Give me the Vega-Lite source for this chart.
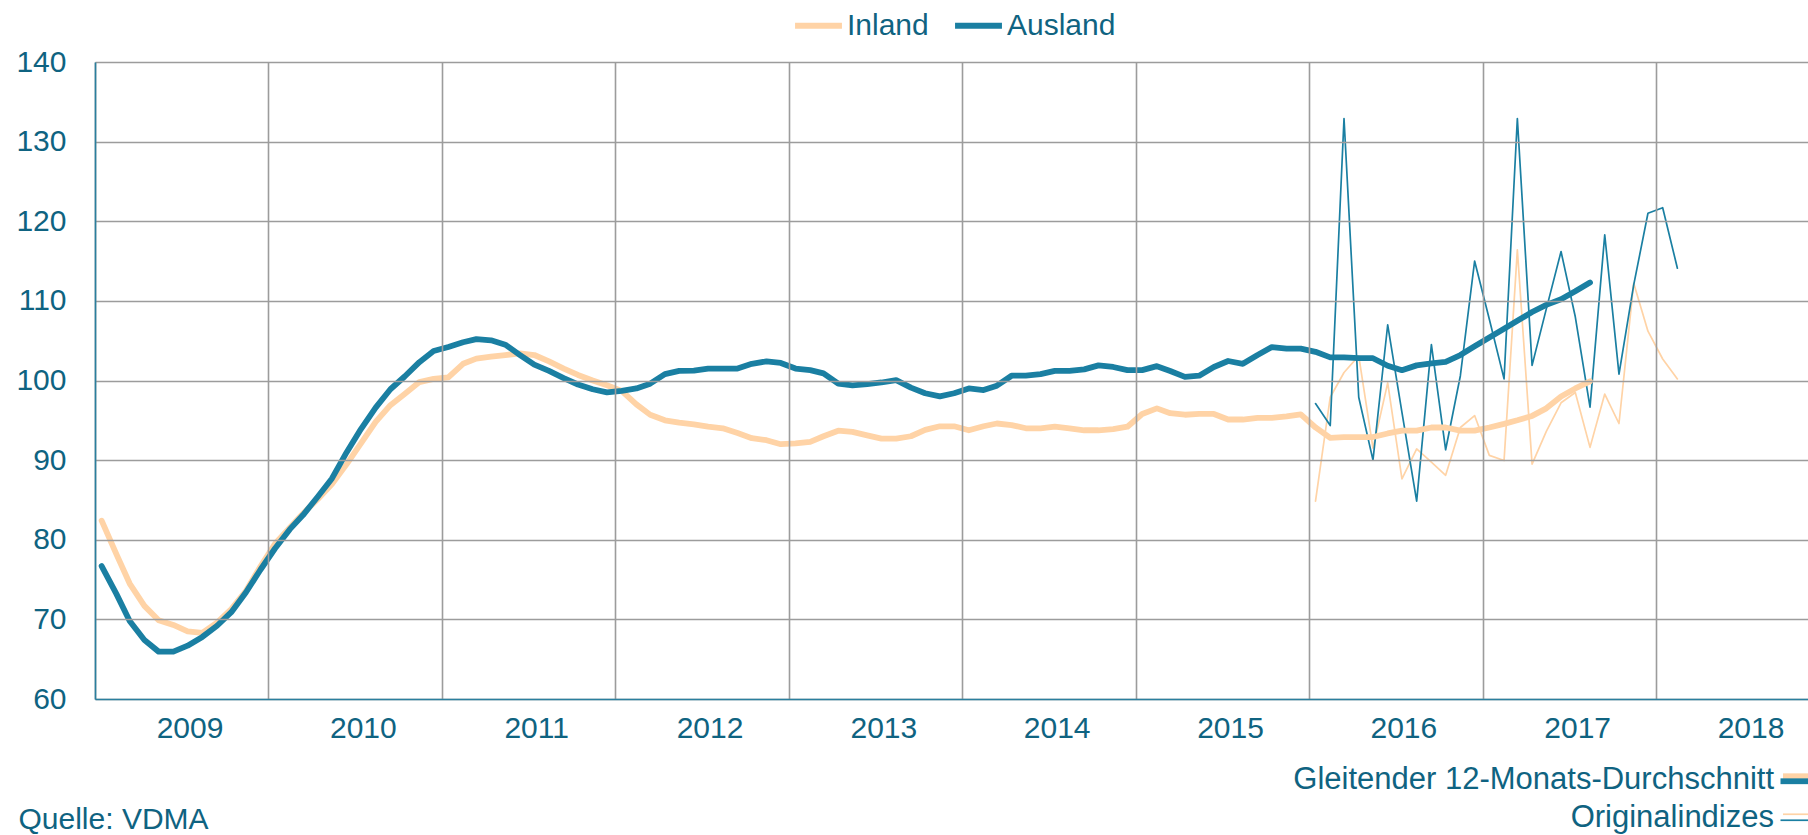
{
"$schema": "https://vega.github.io/schema/vega-lite/v6.json",
"width": 1713,
"height": 637,
"autosize": {"type": "none"},
"padding": {"left": 95, "top": 62, "right": 0, "bottom": 136},
"background": "white",
"config": {"font": "Liberation Sans", "view": {"stroke": null}},
"datasets": {
"ma": [
{"Datum":"2009-01-15","Inland":82.4,"Ausland":76.7},
{"Datum":"2009-02-15","Inland":78.2,"Ausland":73.2},
{"Datum":"2009-03-15","Inland":74.5,"Ausland":69.8},
{"Datum":"2009-04-15","Inland":71.7,"Ausland":67.4},
{"Datum":"2009-05-15","Inland":69.9,"Ausland":65.95},
{"Datum":"2009-06-15","Inland":69.3,"Ausland":65.95},
{"Datum":"2009-07-15","Inland":68.5,"Ausland":66.7},
{"Datum":"2009-08-15","Inland":68.3,"Ausland":67.8},
{"Datum":"2009-09-15","Inland":69.6,"Ausland":69.2},
{"Datum":"2009-10-15","Inland":71.3,"Ausland":70.9},
{"Datum":"2009-11-15","Inland":73.6,"Ausland":73.4},
{"Datum":"2009-12-15","Inland":76.6,"Ausland":76.2},
{"Datum":"2010-01-15","Inland":79.5,"Ausland":78.9},
{"Datum":"2010-02-15","Inland":81.5,"Ausland":81.3},
{"Datum":"2010-03-15","Inland":83.3,"Ausland":83.1},
{"Datum":"2010-04-15","Inland":85.1,"Ausland":85.4},
{"Datum":"2010-05-15","Inland":87.0,"Ausland":87.7},
{"Datum":"2010-06-15","Inland":89.5,"Ausland":91.0},
{"Datum":"2010-07-15","Inland":92.1,"Ausland":93.9},
{"Datum":"2010-08-15","Inland":94.8,"Ausland":96.6},
{"Datum":"2010-09-15","Inland":96.9,"Ausland":98.9},
{"Datum":"2010-10-15","Inland":98.3,"Ausland":100.5},
{"Datum":"2010-11-15","Inland":99.8,"Ausland":102.3},
{"Datum":"2010-12-15","Inland":100.2,"Ausland":103.7},
{"Datum":"2011-01-15","Inland":100.4,"Ausland":104.2},
{"Datum":"2011-02-15","Inland":102.1,"Ausland":104.8},
{"Datum":"2011-03-15","Inland":102.75,"Ausland":105.2},
{"Datum":"2011-04-15","Inland":103.0,"Ausland":105.05},
{"Datum":"2011-05-15","Inland":103.2,"Ausland":104.5},
{"Datum":"2011-06-15","Inland":103.4,"Ausland":103.2},
{"Datum":"2011-07-15","Inland":103.2,"Ausland":102.0},
{"Datum":"2011-08-15","Inland":102.4,"Ausland":101.2},
{"Datum":"2011-09-15","Inland":101.5,"Ausland":100.3},
{"Datum":"2011-10-15","Inland":100.7,"Ausland":99.5},
{"Datum":"2011-11-15","Inland":100.0,"Ausland":98.9},
{"Datum":"2011-12-15","Inland":99.4,"Ausland":98.5},
{"Datum":"2012-01-15","Inland":98.7,"Ausland":98.7},
{"Datum":"2012-02-15","Inland":97.0,"Ausland":99.0},
{"Datum":"2012-03-15","Inland":95.7,"Ausland":99.6},
{"Datum":"2012-04-15","Inland":95.0,"Ausland":100.8},
{"Datum":"2012-05-15","Inland":94.7,"Ausland":101.2},
{"Datum":"2012-06-15","Inland":94.5,"Ausland":101.25},
{"Datum":"2012-07-15","Inland":94.2,"Ausland":101.5},
{"Datum":"2012-08-15","Inland":94.0,"Ausland":101.5},
{"Datum":"2012-09-15","Inland":93.4,"Ausland":101.5},
{"Datum":"2012-10-15","Inland":92.75,"Ausland":102.1},
{"Datum":"2012-11-15","Inland":92.5,"Ausland":102.4},
{"Datum":"2012-12-15","Inland":92.0,"Ausland":102.2},
{"Datum":"2013-01-15","Inland":92.1,"Ausland":101.5},
{"Datum":"2013-02-15","Inland":92.3,"Ausland":101.3},
{"Datum":"2013-03-15","Inland":93.0,"Ausland":100.9},
{"Datum":"2013-04-15","Inland":93.7,"Ausland":99.6},
{"Datum":"2013-05-15","Inland":93.55,"Ausland":99.4},
{"Datum":"2013-06-15","Inland":93.1,"Ausland":99.55},
{"Datum":"2013-07-15","Inland":92.7,"Ausland":99.75},
{"Datum":"2013-08-15","Inland":92.7,"Ausland":100.05},
{"Datum":"2013-09-15","Inland":93.0,"Ausland":99.1},
{"Datum":"2013-10-15","Inland":93.8,"Ausland":98.4},
{"Datum":"2013-11-15","Inland":94.25,"Ausland":98.0},
{"Datum":"2013-12-15","Inland":94.25,"Ausland":98.4},
{"Datum":"2014-01-15","Inland":93.75,"Ausland":99.0},
{"Datum":"2014-02-15","Inland":94.25,"Ausland":98.8},
{"Datum":"2014-03-15","Inland":94.6,"Ausland":99.35},
{"Datum":"2014-04-15","Inland":94.4,"Ausland":100.6},
{"Datum":"2014-05-15","Inland":94.0,"Ausland":100.6},
{"Datum":"2014-06-15","Inland":94.0,"Ausland":100.8},
{"Datum":"2014-07-15","Inland":94.2,"Ausland":101.2},
{"Datum":"2014-08-15","Inland":94.0,"Ausland":101.2},
{"Datum":"2014-09-15","Inland":93.75,"Ausland":101.4},
{"Datum":"2014-10-15","Inland":93.75,"Ausland":101.9},
{"Datum":"2014-11-15","Inland":93.9,"Ausland":101.7},
{"Datum":"2014-12-15","Inland":94.2,"Ausland":101.3},
{"Datum":"2015-01-15","Inland":95.8,"Ausland":101.3},
{"Datum":"2015-02-15","Inland":96.5,"Ausland":101.8},
{"Datum":"2015-03-15","Inland":95.9,"Ausland":101.2},
{"Datum":"2015-04-15","Inland":95.7,"Ausland":100.45},
{"Datum":"2015-05-15","Inland":95.8,"Ausland":100.6},
{"Datum":"2015-06-15","Inland":95.8,"Ausland":101.7},
{"Datum":"2015-07-15","Inland":95.1,"Ausland":102.45},
{"Datum":"2015-08-15","Inland":95.1,"Ausland":102.1},
{"Datum":"2015-09-15","Inland":95.3,"Ausland":103.2},
{"Datum":"2015-10-15","Inland":95.3,"Ausland":104.2},
{"Datum":"2015-11-15","Inland":95.5,"Ausland":104.0},
{"Datum":"2015-12-15","Inland":95.75,"Ausland":104.0},
{"Datum":"2016-01-15","Inland":94.1,"Ausland":103.6},
{"Datum":"2016-02-15","Inland":92.8,"Ausland":102.9},
{"Datum":"2016-03-15","Inland":92.9,"Ausland":102.9},
{"Datum":"2016-04-15","Inland":92.9,"Ausland":102.8},
{"Datum":"2016-05-15","Inland":92.9,"Ausland":102.8},
{"Datum":"2016-06-15","Inland":93.35,"Ausland":101.85},
{"Datum":"2016-07-15","Inland":93.7,"Ausland":101.3},
{"Datum":"2016-08-15","Inland":93.7,"Ausland":101.9},
{"Datum":"2016-09-15","Inland":94.1,"Ausland":102.15},
{"Datum":"2016-10-15","Inland":94.1,"Ausland":102.35},
{"Datum":"2016-11-15","Inland":93.7,"Ausland":103.2},
{"Datum":"2016-12-15","Inland":93.7,"Ausland":104.3},
{"Datum":"2017-01-15","Inland":94.1,"Ausland":105.4},
{"Datum":"2017-02-15","Inland":94.55,"Ausland":106.5},
{"Datum":"2017-03-15","Inland":95.0,"Ausland":107.5},
{"Datum":"2017-04-15","Inland":95.55,"Ausland":108.6},
{"Datum":"2017-05-15","Inland":96.5,"Ausland":109.5},
{"Datum":"2017-06-15","Inland":98.0,"Ausland":110.2},
{"Datum":"2017-07-15","Inland":99.0,"Ausland":111.2},
{"Datum":"2017-08-15","Inland":99.9,"Ausland":112.3}
],
"orig": [
{"Datum":"2016-01-15","Inland":84.85,"Ausland":97.1},
{"Datum":"2016-02-15","Inland":97.9,"Ausland":94.35},
{"Datum":"2016-03-15","Inland":101.0,"Ausland":132.9},
{"Datum":"2016-04-15","Inland":103.1,"Ausland":97.9},
{"Datum":"2016-05-15","Inland":91.5,"Ausland":90.0},
{"Datum":"2016-06-15","Inland":99.7,"Ausland":107.0},
{"Datum":"2016-07-15","Inland":87.65,"Ausland":96.0},
{"Datum":"2016-08-15","Inland":91.4,"Ausland":84.85},
{"Datum":"2016-09-15","Inland":89.75,"Ausland":104.5},
{"Datum":"2016-10-15","Inland":88.1,"Ausland":91.3},
{"Datum":"2016-11-15","Inland":94.1,"Ausland":100.6},
{"Datum":"2016-12-15","Inland":95.6,"Ausland":115.0},
{"Datum":"2017-01-15","Inland":90.6,"Ausland":107.7},
{"Datum":"2017-02-15","Inland":89.95,"Ausland":100.2},
{"Datum":"2017-03-15","Inland":116.4,"Ausland":132.9},
{"Datum":"2017-04-15","Inland":89.5,"Ausland":101.9},
{"Datum":"2017-05-15","Inland":93.6,"Ausland":109.0},
{"Datum":"2017-06-15","Inland":97.2,"Ausland":116.2},
{"Datum":"2017-07-15","Inland":98.5,"Ausland":108.0},
{"Datum":"2017-08-15","Inland":91.6,"Ausland":96.65},
{"Datum":"2017-09-15","Inland":98.3,"Ausland":118.3},
{"Datum":"2017-10-15","Inland":94.6,"Ausland":100.8},
{"Datum":"2017-11-15","Inland":112.2,"Ausland":112.0},
{"Datum":"2017-12-15","Inland":106.2,"Ausland":121.0},
{"Datum":"2018-01-15","Inland":102.7,"Ausland":121.7},
{"Datum":"2018-02-15","Inland":100.2,"Ausland":114.1}
]
},
"encoding": {
"x": {"field": "Datum", "type": "temporal",
 "scale": {"type": "utc", "domain": [{"year":2009,"month":1,"date":1,"utc":true},{"year":2018,"month":11,"date":17,"utc":true}]},
 "axis": {"title": "Quelle: VDMA", "titleX": -77, "titleAnchor": "start", "titleAlign": "left", "titleBaseline": "top", "titlePadding": 61, "titleFontSize": 30, "titleFontWeight": "normal", "titleColor": "#0F6381", "titleFont": "Liberation Sans",
  "values": [{"year":2009,"month":1,"date":1,"utc":true},{"year":2010,"month":1,"date":1,"utc":true},{"year":2011,"month":1,"date":1,"utc":true},{"year":2012,"month":1,"date":1,"utc":true},{"year":2013,"month":1,"date":1,"utc":true},{"year":2014,"month":1,"date":1,"utc":true},{"year":2015,"month":1,"date":1,"utc":true},{"year":2016,"month":1,"date":1,"utc":true},{"year":2017,"month":1,"date":1,"utc":true},{"year":2018,"month":1,"date":1,"utc":true}],
  "format": "%Y", "formatType": "utc", "labelOffset": 94.5, "labelFlush": false, "labelOverlap": false, "labelBound": false,
  "grid": true, "gridColor": "#9C9C9C", "gridWidth": 1.6, "ticks": false, "tickSize": 0,
  "domainColor": "#2A7F9E", "domainWidth": 1.6, "labelFontSize": 30, "labelColor": "#0F6381", "labelPadding": 14, "zindex": 1}},
"y": {"field": "Wert", "type": "quantitative",
 "scale": {"domain": [60, 140], "nice": false, "zero": false},
 "axis": {"title": null, "values": [60,70,80,90,100,110,120,130,140], "grid": true, "gridColor": "#9C9C9C", "gridWidth": 1.6, "ticks": false, "tickSize": 0,
  "domainColor": "#2A7F9E", "domainWidth": 1.6, "labelFontSize": 30, "labelColor": "#0F6381", "labelPadding": 29, "zindex": 1}},
"color": {"field": "Reihe", "type": "nominal",
 "scale": {"domain": ["Inland", "Ausland"], "range": ["#FFD3A6", "#1A7FA2"]},
 "legend": {"orient": "none", "legendX": 697, "legendY": -63, "direction": "horizontal", "title": null, "symbolType": "stroke", "symbolSize": 2200, "symbolStrokeWidth": 6, "labelFontSize": 30, "labelColor": "#0F6381", "labelFont": "Liberation Sans", "columnPadding": 14, "labelOffset": 2, "padding": 0}}
},
"layer": [
{
"data": {"name": "orig"},
"transform": [{"fold": ["Inland", "Ausland"], "as": ["Reihe", "Wert"]}],
"mark": {"type": "line", "strokeCap": "round", "strokeJoin": "round", "clip": true},
"encoding": {
 "strokeWidth": {"datum": "OR", "type": "ordinal", "scale": {"domain": ["MA", "OR"], "range": [5.8, 1.7]},
  "legend": {"orient": "none", "legendX": 1685, "legendY": 700, "direction": "vertical", "title": null, "symbolType": "M-1,-0.25H1", "symbolSize": 900, "labelFontSize": 31, "labelLimit": 700, "labelColor": "#0F6381", "labelFont": "Liberation Sans", "labelAlign": "right", "labelOffset": -42, "rowPadding": 7, "padding": 0,
   "labelExpr": "datum.label == 'MA' ? 'Gleitender 12-Monats-Durchschnitt' : 'Originalindizes'",
   "encode": {"symbols": {"update": {"stroke": {"value": "#FFD3A6"}, "fill": {"value": "transparent"}, "opacity": {"value": 1}}}}}},
 "opacity": {"datum": "or", "type": "ordinal", "scale": {"domain": ["ma", "or"], "range": [1, 1]},
  "legend": {"orient": "none", "legendX": 1685, "legendY": 700, "direction": "vertical", "title": null, "symbolType": "M-1,0.25H1", "symbolSize": 900, "labelFontSize": 31, "labelFont": "Liberation Sans", "labelAlign": "right", "labelOffset": -42, "rowPadding": 7, "padding": 0,
   "labelExpr": "''",
   "encode": {"symbols": {"update": {"stroke": {"value": "#1A7FA2"}, "fill": {"value": "transparent"}, "strokeWidth": {"signal": "datum.value == 'ma' ? 5.8 : 1.7"}, "opacity": {"value": 1}}}}}}
}
},
{
"data": {"name": "ma"},
"transform": [{"fold": ["Inland", "Ausland"], "as": ["Reihe", "Wert"]}],
"mark": {"type": "line", "strokeCap": "round", "strokeJoin": "round", "clip": true},
"encoding": {
 "strokeWidth": {"datum": "MA", "type": "ordinal"},
 "opacity": {"datum": "ma", "type": "ordinal"}
}
}
]
}
